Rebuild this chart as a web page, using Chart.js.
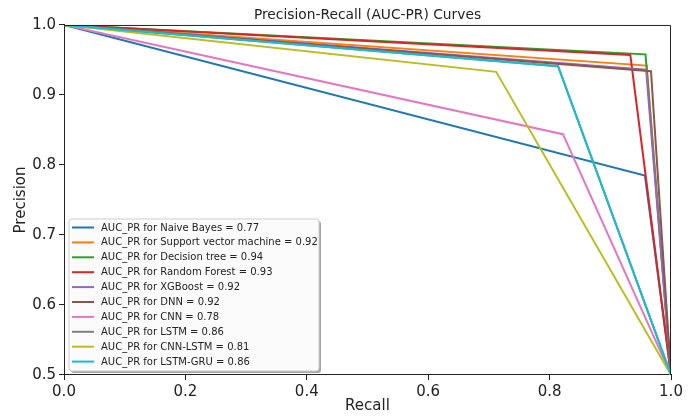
<!DOCTYPE html>
<html>
<head>
<meta charset="utf-8">
<script src="https://cdn.jsdelivr.net/npm/chart.js@4/dist/chart.umd.min.js"></script>
<style>
  html, body { margin: 0; padding: 0; background: #fff; }
  #wrap { width: 695px; height: 417px; }
</style>
</head>
<body>
<div id="wrap"><canvas id="prChart" width="695" height="417"></canvas></div>
<script>
// model names + AUC shown in the legend
const models = ['Naive Bayes', 'Support vector machine', 'Decision tree', 'Random Forest', 'XGBoost',
                'DNN', 'CNN', 'LSTM', 'CNN-LSTM', 'LSTM-GRU'];
const aucValues = [0.77, 0.92, 0.94, 0.93, 0.92, 0.92, 0.78, 0.86, 0.81, 0.86];

// each curve goes (0,1) -> (recall, precision) -> (1, 0.5)
const cornerRecall    = [0.957, 0.960, 0.958, 0.933, 0.959, 0.967, 0.822, 0.814, 0.712, 0.814];
const cornerPrecision = [0.785, 0.942, 0.958, 0.957, 0.936, 0.934, 0.844, 0.941, 0.933, 0.941];
const startPoint = [0, 1];
const endPoint = [1, 0.5];

const xTicks = [0, 0.2, 0.4, 0.6, 0.8, 1.0];
const yTicks = [0.5, 0.6, 0.7, 0.8, 0.9, 1.0];

const colors = ['#1f77b4', '#ff7f0e', '#2ca02c', '#d62728', '#9467bd',
                '#8c564b', '#e377c2', '#7f7f7f', '#bcbd22', '#17becf'];

const FONT = "'DejaVu Sans', sans-serif";

const datasets = models.map((name, i) => ({
    label: `AUC_PR for ${name} = ${aucValues[i].toFixed(2)}`,
    data: [
        { x: startPoint[0], y: startPoint[1] },
        { x: cornerRecall[i], y: cornerPrecision[i] },
        { x: endPoint[0], y: endPoint[1] }
    ],
    borderColor: colors[i],
    backgroundColor: colors[i],
    borderWidth: 2,
    pointRadius: 0,
    tension: 0,
    fill: false,
    order: models.length - i // later series on top, like matplotlib
}));

// top + right spines
const frameBox = {
    id: 'frameBox',
    afterDatasetsDraw(chart) {
        const { ctx, chartArea: a } = chart;
        ctx.save();
        ctx.strokeStyle = '#222';
        ctx.lineWidth = 1;
        ctx.beginPath();
        ctx.moveTo(a.left, a.top + 0.5);
        ctx.lineTo(a.right - 0.5, a.top + 0.5);
        ctx.lineTo(a.right - 0.5, a.bottom);
        ctx.stroke();
        ctx.restore();
    }
};

// legend box in the lower left of the plot
const innerLegend = {
    id: 'innerLegend',
    afterDraw(chart) {
        const { ctx, chartArea: a } = chart;
        const x = a.left + 5, rowH = 14.9;
        const w = 250, h = 152;
        const y = a.bottom - 4 - h;
        ctx.save();
        // shadow
        ctx.fillStyle = 'rgba(0,0,0,0.35)';
        ctx.beginPath();
        ctx.roundRect(x + 2, y + 2, w, h, 3);
        ctx.fill();
        ctx.fillStyle = 'rgba(255,255,255,0.95)';
        ctx.strokeStyle = '#cccccc';
        ctx.lineWidth = 1;
        ctx.beginPath();
        ctx.roundRect(x, y, w, h, 3);
        ctx.fill();
        ctx.stroke();
        ctx.font = `10px ${FONT}`;
        ctx.textBaseline = 'middle';
        chart.data.datasets.forEach((ds, i) => {
            const cy = y + 8.5 + i * rowH;
            ctx.strokeStyle = ds.borderColor;
            ctx.lineWidth = 2;
            ctx.beginPath();
            ctx.moveTo(x + 3, cy);
            ctx.lineTo(x + 25, cy);
            ctx.stroke();
            ctx.fillStyle = '#222';
            ctx.fillText(ds.label, x + 32, cy + 0.5);
        });
        ctx.restore();
    }
};

new Chart(document.getElementById('prChart').getContext('2d'), {
    type: 'line',
    data: { datasets },
    options: {
        responsive: false,
        animation: false,
        layout: { padding: { left: 0, right: 24, top: 0, bottom: 0 } },
        plugins: {
            legend: { display: false },
            tooltip: { enabled: false },
            title: {
                display: true,
                text: 'Precision-Recall (AUC-PR) Curves',
                color: '#222',
                fullSize: false,
                font: { family: FONT, size: 13.8, weight: 'normal' },
                padding: { top: 7, bottom: 1.4 }
            }
        },
        scales: {
            x: {
                type: 'linear',
                min: 0, max: 1,
                afterBuildTicks: s => { s.ticks = xTicks.map(v => ({ value: v })); },
                afterFit: s => { s.height = 42; },
                ticks: { color: '#222', font: { family: FONT, size: 15 }, padding: 3,
                         maxRotation: 0, callback: v => v.toFixed(1) },
                grid: { drawOnChartArea: false, drawTicks: true, tickLength: 5, color: '#222' },
                border: { display: true, color: '#222' },
                title: { display: true, text: 'Recall', color: '#222',
                         font: { family: FONT, size: 15 }, padding: { top: 0, bottom: 2 } }
            },
            y: {
                type: 'linear',
                min: 0.5, max: 1,
                afterBuildTicks: s => { s.ticks = yTicks.map(v => ({ value: v })); },
                afterFit: s => { s.width = 64; },
                ticks: { color: '#222', font: { family: FONT, size: 15 }, padding: 3,
                         callback: v => v.toFixed(1) },
                grid: { drawOnChartArea: false, drawTicks: true, tickLength: 5, color: '#222' },
                border: { display: true, color: '#222' },
                title: { display: true, text: 'Precision', color: '#222',
                         font: { family: FONT, size: 15 }, padding: { top: 12, bottom: 0 } }
            }
        }
    },
    plugins: [frameBox, innerLegend]
});
</script>
</body>
</html>
